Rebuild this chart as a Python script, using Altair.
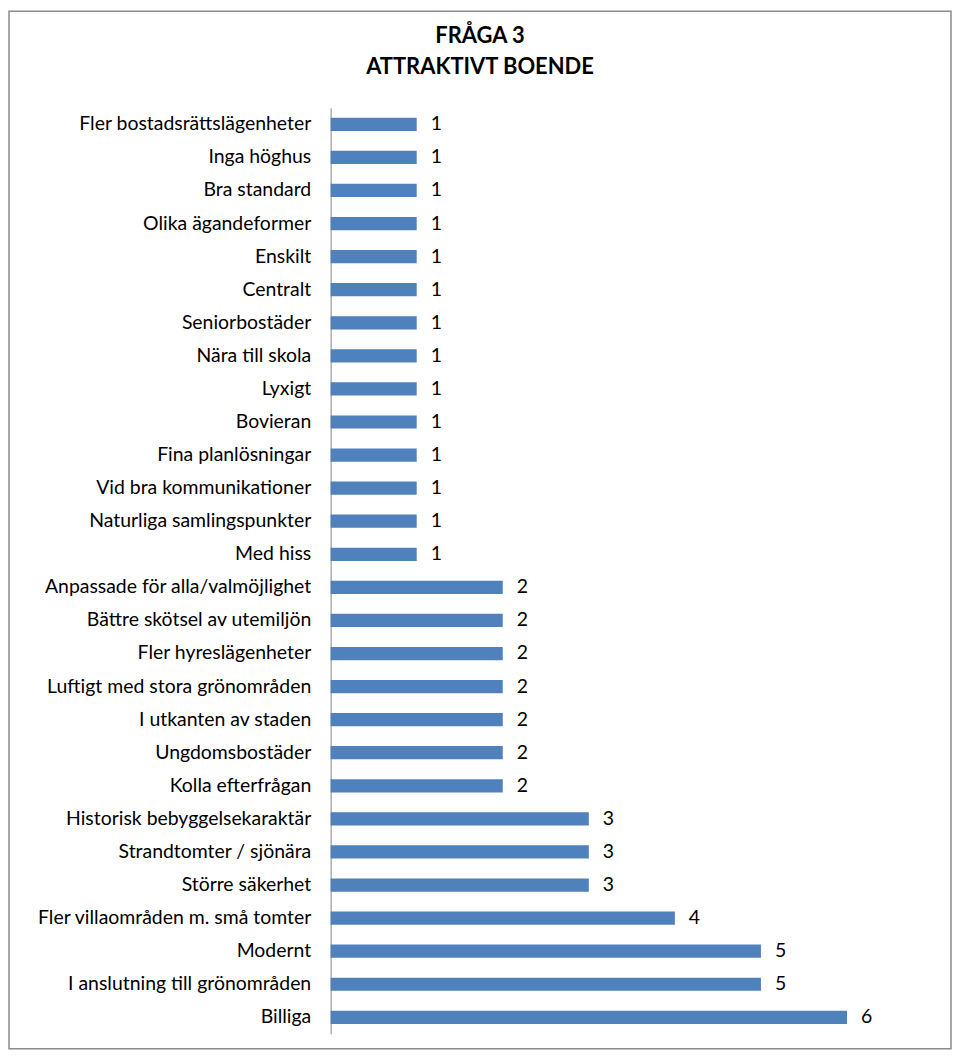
import altair as alt
import pandas as pd

title_lines = ["FRÅGA 3", "ATTRAKTIVT BOENDE"]

categories = [
    "Fler bostadsrättslägenheter", "Inga höghus", "Bra standard", "Olika ägandeformer",
    "Enskilt", "Centralt", "Seniorbostäder", "Nära till skola", "Lyxigt", "Bovieran",
    "Fina planlösningar", "Vid bra kommunikationer", "Naturliga samlingspunkter", "Med hiss",
    "Anpassade för alla/valmöjlighet", "Bättre skötsel av utemiljön", "Fler hyreslägenheter",
    "Luftigt med stora grönområden", "I utkanten av staden", "Ungdomsbostäder",
    "Kolla efterfrågan", "Historisk bebyggelsekaraktär", "Strandtomter / sjönära",
    "Större säkerhet", "Fler villaområden m. små tomter", "Modernt",
    "I anslutning till grönområden", "Billiga",
]
values = [1, 1, 1, 1, 1, 1, 1, 1, 1, 1, 1, 1, 1, 1,
          2, 2, 2, 2, 2, 2, 2, 3, 3, 3, 4, 5, 5, 6]

df = pd.DataFrame({"kategori": categories, "antal": values})

FONT = "Lato"
W, H = 605, 930
PAD = {"left": 324, "top": 98, "right": 19, "bottom": 16}

base = alt.Chart(df).encode(
    y=alt.Y(
        "kategori:N",
        sort=categories,
        title=None,
        scale=alt.Scale(paddingInner=0.6, paddingOuter=0.3),
        axis=alt.Axis(
            ticks=False, grid=False, domain=True, domainColor="#868686",
            labelFont=FONT, labelFontSize=19.5, labelColor="#000000",
            labelPadding=20, labelLimit=320,
        ),
    ),
    x=alt.X("antal:Q", axis=None, scale=alt.Scale(domain=[0, 7], nice=False)),
)

bars = base.mark_bar(color="#4F81BD")
labels = base.mark_text(align="left", baseline="middle", dx=14, font=FONT,
                        fontSize=19.5, color="#000000").encode(text="antal:Q")

border = alt.Chart(pd.DataFrame({"a": [0]})).mark_rect(
    filled=False, stroke="#8c8c8c", strokeWidth=1.5
).encode(
    x=alt.value(-PAD["left"] + 1),
    x2=alt.value(W + PAD["right"] - 1),
    y=alt.value(-PAD["top"] + 1),
    y2=alt.value(H + PAD["bottom"] - 1),
)

title1 = alt.Chart(pd.DataFrame({"t": [title_lines[0]]})).mark_text(
    font=FONT, fontSize=22, fontWeight="bold", color="#000000",
    align="center", baseline="middle",
).encode(text="t:N", x=alt.value(150), y=alt.value(-72))

title2 = alt.Chart(pd.DataFrame({"t": [title_lines[1]]})).mark_text(
    font=FONT, fontSize=22, fontWeight="bold", color="#000000",
    align="center", baseline="middle",
).encode(text="t:N", x=alt.value(150), y=alt.value(-41))

chart = alt.layer(border, bars, labels, title1, title2).properties(
    width=W,
    height=H,
    autosize=alt.AutoSizeParams(type="none"),
    padding=PAD,
).configure_view(stroke=None)

chart.save("out.html", embed_options={"renderer": "svg", "actions": False})
